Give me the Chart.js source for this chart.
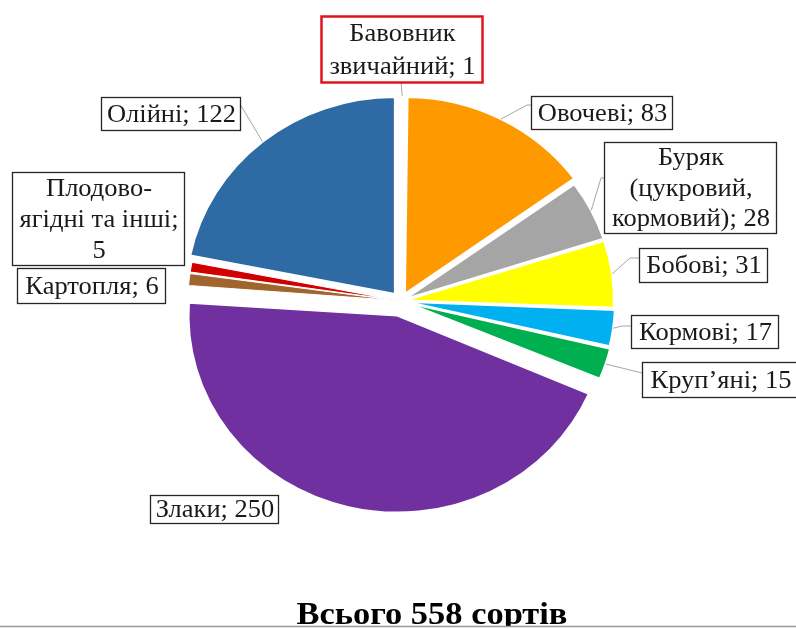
<!DOCTYPE html>
<html>
<head>
<meta charset="utf-8">
<script src="https://cdn.jsdelivr.net/npm/chart.js@4.4.1/dist/chart.umd.min.js"></script>
<style>
html,body{margin:0;padding:0;background:#fff}
canvas{display:block}
</style>
</head>
<body>
<canvas id="c" width="796" height="629"></canvas>
<script>
// ---- data ----
const categories = ["Бавовник звичайний", "Овочеві", "Буряк (цукровий, кормовий)", "Бобові", "Кормові", "Круп’яні", "Злаки", "Картопля", "Плодово-ягідні та інші", "Олійні"];
const values = [1, 83, 28, 31, 17, 15, 250, 6, 5, 122];
const titlePrefix = "Всього";
const titleSuffix = "сортів";

// ---- style / layout ----
const colors = ["#E8E8E8", "#FF9900", "#A5A5A5", "#FFFF00", "#00B0F0", "#00B050", "#7030A0", "#A0652D", "#D00000", "#2E6AA4"];
const explodePx = [8, 8, 4, 4, 5, 6, 15, 4, 4, 9];
const borderPx = [2, 2, 2, 2, 2, 2, 2, 1, 1, 2];
const labelLines = [
  ["Бавовник", "звичайний; {v}"],
  ["Овочеві; {v}"],
  ["Буряк", "(цукровий,", "кормовий); {v}"],
  ["Бобові; {v}"],
  ["Кормові; {v}"],
  ["Круп’яні; {v}"],
  ["Злаки; {v}"],
  ["Картопля; {v}"],
  ["Плодово-", "ягідні та інші;", "{v}"],
  ["Олійні; {v}"]
];
const labelBoxes = [
  {x:321, y:16, w:161, h:66, stroke:"#E0141E", lw:2.5},
  {x:531, y:96, w:141, h:33},
  {x:604, y:142, w:172, h:91},
  {x:639, y:248, w:128, h:34},
  {x:631, y:315, w:147, h:33},
  {x:642, y:362, w:156, h:35},
  {x:150, y:495, w:128, h:28},
  {x:17, y:268, w:148, h:35},
  {x:12, y:172, w:172, h:93},
  {x:101, y:97, w:139, h:33}
];
const leaders = [
  {x:401, y:82, ex:null},
  {x:531, y:105, ex:527},
  {x:604, y:178, ex:601},
  {x:639, y:258, ex:630},
  {x:631, y:326, ex:622},
  {x:642, y:373, ex:null},
  null, null, null,
  {x:240, y:104, ex:null}
];
const RADIUS = 197;
const SX = 1.06;
const LABEL_FONT = '25px "Liberation Serif", "Times New Roman", serif';
const TITLE_FONT = 'bold 32.5px "Liberation Serif", "Times New Roman", serif';

function stretchedText(ctx, t, x, y) {
  ctx.save();
  ctx.translate(x, y);
  ctx.scale(SX, 1);
  ctx.fillText(t, 0, 0);
  ctx.restore();
}

const pieLook = {
  id: 'pieLook',
  beforeDatasetsDraw(chart) {
    const meta = chart.getDatasetMeta(0);
    // cancel Chart.js radius growth of offset arcs so all slices share one radius
    meta.data.forEach((el, i) => {
      const off = explodePx[i];
      const circ = el.endAngle - el.startAngle;
      const fix = 1 - Math.sin(Math.min(Math.PI, circ));
      el.outerRadius = RADIUS - off * fix;
    });
    const el0 = meta.data[0];
    const ctx = chart.ctx;
    ctx.save();
    ctx.translate(el0.x, el0.y);
    ctx.scale(SX, 1);
    ctx.translate(-el0.x, -el0.y);
  },
  afterDatasetsDraw(chart) {
    const ctx = chart.ctx;
    ctx.restore();
    const meta = chart.getDatasetMeta(0);
    ctx.save();
    // leader lines
    ctx.strokeStyle = '#A6A6A6';
    ctx.lineWidth = 1;
    meta.data.forEach((el, i) => {
      const L = leaders[i];
      if (!L) return;
      const mid = (el.startAngle + el.endAngle) / 2;
      const rr = RADIUS + explodePx[i];
      const ax = el.x + Math.cos(mid) * rr * SX;
      const ay = el.y + Math.sin(mid) * rr;
      ctx.beginPath();
      ctx.moveTo(ax, ay);
      if (L.ex !== null) ctx.lineTo(L.ex, L.y);
      ctx.lineTo(L.x, L.y);
      ctx.stroke();
    });
    // label boxes
    ctx.font = LABEL_FONT;
    ctx.textAlign = 'center';
    ctx.textBaseline = 'middle';
    labelBoxes.forEach((b, i) => {
      ctx.fillStyle = '#fff';
      ctx.fillRect(b.x, b.y, b.w, b.h);
      ctx.strokeStyle = b.stroke || '#262626';
      ctx.lineWidth = b.lw || 1.3;
      ctx.strokeRect(b.x + 0.5, b.y + 0.5, b.w, b.h);
      const lines = labelLines[i].map(s => s.replace('{v}', values[i]));
      const lh = b.h / lines.length;
      ctx.fillStyle = '#1a1a1a';
      lines.forEach((t, k) => {
        stretchedText(ctx, t, b.x + b.w / 2 + 1, b.y + lh * (k + 0.5) + 1.5);
      });
    });
    ctx.restore();
  },
  afterDraw(chart) {
    const ctx = chart.ctx;
    const total = values.reduce((a, b) => a + b, 0);
    ctx.save();
    ctx.font = TITLE_FONT;
    ctx.fillStyle = '#000';
    ctx.textAlign = 'center';
    ctx.textBaseline = 'alphabetic';
    stretchedText(ctx, titlePrefix + ' ' + total + ' ' + titleSuffix, 432, 624);
    ctx.fillStyle = '#fff';
    ctx.fillRect(0, 627, 796, 2);
    ctx.strokeStyle = '#9a9a9a';
    ctx.lineWidth = 1.5;
    ctx.beginPath();
    ctx.moveTo(0, 626.5);
    ctx.lineTo(796, 626.5);
    ctx.stroke();
    ctx.restore();
  }
};

new Chart(document.getElementById('c'), {
  type: 'pie',
  data: {
    labels: categories,
    datasets: [{
      data: values,
      backgroundColor: colors,
      borderColor: '#ffffff',
      borderWidth: borderPx,
      offset: explodePx.map(v => v * 4)
    }]
  },
  options: {
    responsive: false,
    animation: false,
    events: [],
    radius: RADIUS,
    rotation: 0,
    layout: { padding: { left: 6, right: 0, top: 0, bottom: 27 } },
    plugins: { legend: { display: false }, tooltip: { enabled: false }, title: { display: false } }
  },
  plugins: [pieLook]
});
</script>
</body>
</html>
